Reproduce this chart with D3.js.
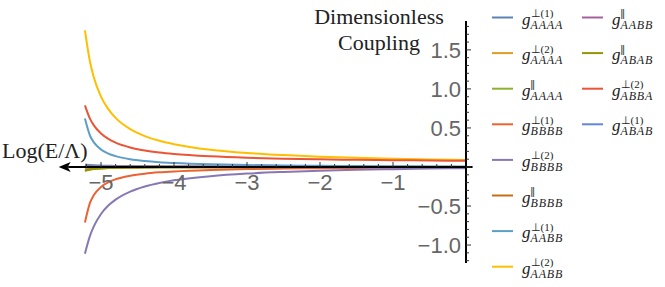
<!DOCTYPE html>
<html>
<head>
<meta charset="utf-8">
<script src="https://cdn.jsdelivr.net/npm/d3@7"></script>
<style>
  html, body { margin: 0; padding: 0; background: #fff; }
  svg { display: block; }
</style>
</head>
<body>
<svg id="chart" width="665" height="287"></svg>
<script>
// ---- data ----
const logE = [-5.22, -5.15, -5.1, -5.0, -4.9, -4.8, -4.6, -4.4, -4.2, -4.0, -3.5, -3.0, -2.5, -2.0, -1.5, -1.0, -0.5, 0];

const gPerp1AAAA = [0.030, 0.025, 0.022, 0.018, 0.015, 0.013, 0.011, 0.009, 0.008, 0.007, 0.005, 0.004, 0.003, 0.003, 0.002, 0.002, 0.002, 0.001];
const gPerp2AAAA = [0.020, 0.017, 0.015, 0.012, 0.010, 0.009, 0.007, 0.006, 0.005, 0.005, 0.004, 0.003, 0.002, 0.002, 0.002, 0.001, 0.001, 0.001];
const gParAAAA   = [-0.020, -0.016, -0.014, -0.011, -0.009, -0.008, -0.006, -0.005, -0.004, -0.004, -0.003, -0.002, -0.002, -0.001, -0.001, -0.001, -0.001, 0.000];
const gPerp1BBBB = [-0.71, -0.457, -0.363, -0.256, -0.196, -0.158, -0.113, -0.086, -0.069, -0.057, -0.038, -0.027, -0.020, -0.016, -0.012, -0.009, -0.007, -0.005];
const gPerp2BBBB = [-1.11, -0.879, -0.764, -0.602, -0.494, -0.418, -0.315, -0.250, -0.205, -0.171, -0.118, -0.085, -0.064, -0.048, -0.037, -0.028, -0.021, -0.015];
const gParBBBB   = [-0.045, -0.030, -0.024, -0.016, -0.012, -0.010, -0.007, -0.005, -0.004, -0.003, -0.002, -0.002, -0.001, -0.001, -0.001, -0.001, 0.000, 0.000];
const gPerp1AABB = [0.62, 0.40, 0.318, 0.224, 0.172, 0.139, 0.099, 0.076, 0.061, 0.051, 0.034, 0.025, 0.019, 0.015, 0.011, 0.009, 0.007, 0.005];
const gPerp2AABB = [1.75, 1.344, 1.154, 0.902, 0.741, 0.629, 0.485, 0.396, 0.335, 0.292, 0.221, 0.179, 0.152, 0.132, 0.117, 0.106, 0.097, 0.090];
const gParAABB   = [0.012, 0.010, 0.009, 0.007, 0.006, 0.005, 0.004, 0.004, 0.003, 0.003, 0.002, 0.002, 0.001, 0.001, 0.001, 0.001, 0.001, 0.000];
const gParABAB   = [-0.050, -0.034, -0.027, -0.018, -0.013, -0.011, -0.008, -0.006, -0.005, -0.004, -0.003, -0.002, -0.002, -0.001, -0.001, -0.001, -0.001, 0.000];
const gPerp2ABBA = [0.79, 0.617, 0.536, 0.428, 0.359, 0.311, 0.249, 0.211, 0.185, 0.166, 0.136, 0.118, 0.107, 0.098, 0.092, 0.087, 0.083, 0.080];
const gPerp1ABAB = [0.015, 0.012, 0.011, 0.009, 0.007, 0.006, 0.005, 0.004, 0.004, 0.003, 0.002, 0.002, 0.002, 0.001, 0.001, 0.001, 0.001, 0.001];

const PAR = "par";
const seriesNames = [
  ["⊥(1)", "AAAA"], ["⊥(2)", "AAAA"], [PAR, "AAAA"], ["⊥(1)", "BBBB"],
  ["⊥(2)", "BBBB"], [PAR, "BBBB"], ["⊥(1)", "AABB"], ["⊥(2)", "AABB"],
  [PAR, "AABB"], [PAR, "ABAB"], ["⊥(2)", "ABBA"], ["⊥(1)", "ABAB"]
];
const seriesValues = [gPerp1AAAA, gPerp2AAAA, gParAAAA, gPerp1BBBB, gPerp2BBBB, gParBBBB,
                      gPerp1AABB, gPerp2AABB, gParAABB, gParABAB, gPerp2ABBA, gPerp1ABAB];
const colors = ["#5E81B5", "#E19C24", "#8FB032", "#EB6235", "#8778B3", "#C56E1A",
                "#5D9EC7", "#FFBF00", "#A5609D", "#929600", "#E95536", "#6685D9"];

const xMajorTicks = [-5, -4, -3, -2, -1];
const xTickLabels = ["−5", "−4", "−3", "−2", "−1"];
const yMajorTicks = [-1.0, -0.5, 0.5, 1.0, 1.5];
const yTickLabels = ["−1.0", "−0.5", "0.5", "1.0", "1.5"];

// ---- scales ----
const svg = d3.select("#chart");
const x = d3.scaleLinear().domain([-5.6, 0]).range([57.2, 466]);
const y = d3.scaleLinear().domain([-1.23, 1.87]).range([263, 21]);

// ---- curves ----
const line = d3.line().x((d, i) => x(logE[i])).y(d => y(d)).curve(d3.curveMonotoneX);
const gLines = svg.append("g");
seriesValues.forEach((vals, k) => {
  gLines.append("path")
    .attr("d", line(vals))
    .attr("fill", "none")
    .attr("stroke", colors[k])
    .attr("stroke-width", 2);
});

// ---- axes ----
const axisG = svg.append("g");
const y0 = y(0);
axisG.append("line")
  .attr("x1", x(0.09)).attr("x2", x(-5.45))
  .attr("y1", y0).attr("y2", y0)
  .attr("stroke", "#000").attr("stroke-width", 2);
const tipX = x(-5.58);
axisG.append("path")
  .attr("d", `M${tipX},${y0} L${tipX + 12},${y0 - 5} L${tipX + 9},${y0} L${tipX + 12},${y0 + 5} Z`)
  .attr("fill", "#000");

const xMinor = d3.range(-5.2, -0.05, 0.2).map(v => Math.round(v * 10) / 10);
axisG.selectAll(".xminor").data(xMinor).enter().append("line")
  .attr("x1", d => x(d)).attr("x2", d => x(d))
  .attr("y1", y0).attr("y2", d => y0 - (Number.isInteger(d) ? 5 : 3))
  .attr("stroke", "#333").attr("stroke-width", 1);
axisG.selectAll(".xlab").data(xMajorTicks).enter().append("text")
  .attr("x", d => x(d)).attr("y", y0 + 23)
  .attr("text-anchor", "middle")
  .attr("font-family", "Liberation Sans, Arial, sans-serif")
  .attr("font-size", 22).attr("fill", "#666")
  .text((d, i) => xTickLabels[i]);

const yAxisX = x(0);
axisG.append("line")
  .attr("x1", yAxisX).attr("x2", yAxisX)
  .attr("y1", y(1.87)).attr("y2", y(-1.23))
  .attr("stroke", "#000").attr("stroke-width", 2);
const yMinor = d3.range(-12, 19, 1).map(v => v / 10);
axisG.selectAll(".yminor").data(yMinor).enter().append("line")
  .attr("x1", yAxisX).attr("x2", d => yAxisX + (Math.abs(d * 2 - Math.round(d * 2)) < 1e-6 ? 5 : 3))
  .attr("y1", d => y(d)).attr("y2", d => y(d))
  .attr("stroke", "#333").attr("stroke-width", 1);
axisG.selectAll(".ylab").data(yMajorTicks).enter().append("text")
  .attr("x", yAxisX - 5).attr("y", d => y(d)).attr("dy", "0.36em")
  .attr("text-anchor", "end")
  .attr("font-family", "Liberation Sans, Arial, sans-serif")
  .attr("font-size", 22).attr("fill", "#666")
  .text((d, i) => yTickLabels[i]);

svg.append("text").attr("x", 2).attr("y", 158)
  .attr("font-family", "Liberation Serif, Times New Roman, serif")
  .attr("font-size", 22).attr("fill", "#222")
  .text("Log(E/Λ)");
svg.append("text").attr("x", 379).attr("y", 24).attr("text-anchor", "middle")
  .attr("font-family", "Liberation Serif, Times New Roman, serif")
  .attr("font-size", 22).attr("fill", "#222")
  .text("Dimensionless");
svg.append("text").attr("x", 379).attr("y", 50).attr("text-anchor", "middle")
  .attr("font-family", "Liberation Serif, Times New Roman, serif")
  .attr("font-size", 22).attr("fill", "#222")
  .text("Coupling");

// ---- legend ----
const legend = svg.append("g");
seriesNames.forEach((nm, k) => {
  const col = k < 8 ? 0 : 1;
  const row = k < 8 ? k : k - 8;
  const lx = col === 0 ? 492 : 582;
  const ly = 17.5 + row * 35.6;
  const g = legend.append("g");
  g.append("line").attr("x1", lx).attr("x2", lx + 21).attr("y1", ly).attr("y2", ly)
    .attr("stroke", colors[k]).attr("stroke-width", 2);
  const tx = lx + 30;
  const t = g.append("text")
    .attr("font-family", "Liberation Serif, Times New Roman, serif")
    .attr("fill", "#222");
  t.append("tspan").attr("x", tx).attr("y", ly + 7)
    .attr("font-style", "italic").attr("font-size", 17).text("g");
  if (nm[0] === PAR) {
    t.append("tspan").attr("x", tx + 8.5).attr("y", ly - 0.5)
      .attr("font-family", "Liberation Sans, Arial, sans-serif")
      .attr("font-size", 10).attr("letter-spacing", -0.8).text("||");
  } else {
    t.append("tspan").attr("x", tx + 8.5).attr("y", ly - 0.5)
      .attr("font-size", 11).text(nm[0]);
  }
  t.append("tspan").attr("x", tx + 8.5).attr("y", ly + 11)
    .attr("font-style", "italic").attr("font-size", 12).attr("letter-spacing", 0.8).text(nm[1]);
});
</script>
</body>
</html>
